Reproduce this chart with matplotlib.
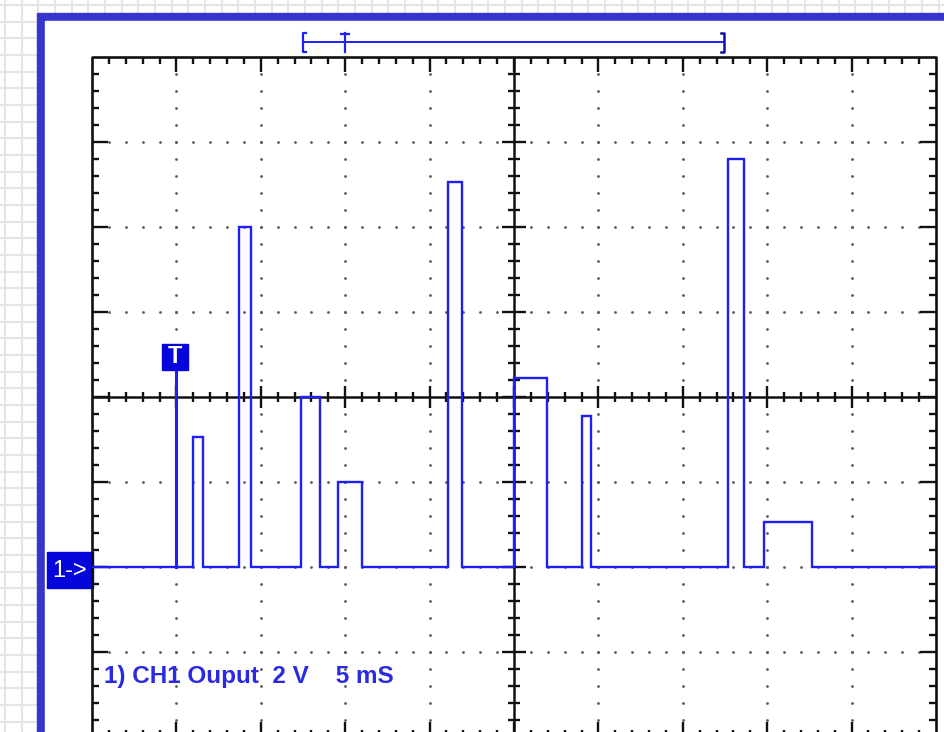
import matplotlib
matplotlib.use("Agg")
import matplotlib.pyplot as plt
import numpy as np
from matplotlib.patches import Rectangle
from matplotlib.collections import LineCollection

plt.rcParams['font.family'] = ['Liberation Sans', 'DejaVu Sans']

# ---------------- data ----------------
time_range_ms = [-25.0, 25.0]          # 10 div x 5 ms/div
volt_range_v = [-4.0, 12.0]            # 8 div x 2 V/div, ground 2 div below centre
pulse_start_ms = [-19.0, -16.3, -12.6, -10.4, -3.9, 0.0, 4.0, 12.7, 14.8]
pulse_end_ms = [-18.4, -15.6, -11.5, -9.0, -3.1, 1.95, 4.55, 13.6, 17.65]
pulse_level_v = [3.05, 8.0, 4.0, 2.0, 9.05, 4.45, 3.55, 9.6, 1.05]
trigger_ms = -20.0
label_text = "1) CH1 Ouput  2 V    5 mS"

# ---------------- colours ----------------
FRAME = '#3535cc'
SIG = '#1e1ef6'
BOX = '#0505dc'
TXT = '#2a2ae4'
GRAYGRID = '#e5e5e5'
DOT = '#5a5a5a'

W, H = 944, 732
fig = plt.figure(figsize=(W / 100, H / 100), dpi=100)

# background layer in pixel coordinates
bg = fig.add_axes([0, 0, 1, 1])
bg.set_xlim(0, W)
bg.set_ylim(H, 0)
bg.axis('off')
for x in np.arange(5, W + 1, 16.67):
    bg.plot([x, x], [0, H], color=GRAYGRID, lw=1.5, zorder=0)
for y in np.arange(5, H + 1, 16.67):
    bg.plot([0, W], [y, y], color=GRAYGRID, lw=1.5, zorder=0)
bg.add_patch(Rectangle((37, 13), 2000, 2000, color=FRAME, zorder=1))
bg.add_patch(Rectangle((45, 21), 2000, 2000, color='white', zorder=2))

# memory window indicator at top
hy = 42
bg.plot([303, 724], [hy, hy], color=SIG, lw=1.4, zorder=3)
bg.plot([306, 303, 303, 306], [33, 33, 52, 52], color=SIG, lw=1.6, zorder=3)
bg.plot([721, 724, 724, 721], [33, 33, 52, 52], color='#1010a0', lw=1.8, zorder=3)
bg.plot([345, 345], [33, 52], color=SIG, lw=1.6, zorder=3)
bg.plot([341, 349], [34, 34], color=SIG, lw=1.6, zorder=3)

# channel 1 ground marker
bg.add_patch(Rectangle((47, 552), 46, 36, color=BOX, zorder=3))
bg.text(70, 571, '1->', color='white', fontsize=17, ha='center', va='center', zorder=4)

# channel label
bg.text(104, 677, label_text, color=TXT, fontsize=17.5, fontweight='bold',
        ha='left', va='center', zorder=4)

# ---------------- scope screen ----------------
L, R, T, B = 92, 936, 57, 737
ax = fig.add_axes([L / W, 1 - B / H, (R - L) / W, (B - T) / H])
ax.set_xlim(*time_range_ms)
ax.set_ylim(*volt_range_v)
ax.axis('off')
x0, x1 = time_range_ms
y0, y1 = volt_range_v
sx = (R - L) / (x1 - x0)   # px per ms
sy = (B - T) / (y1 - y0)   # px per V
xdiv, ydiv = 5.0, 2.0
xc, yc = (x0 + x1) / 2, (y0 + y1) / 2

def dx(p):
    return p / sx

def dy(p):
    return p / sy

xs = np.arange(x0, x1 + 1e-6, xdiv / 5)
ys = np.arange(y0, y1 + 1e-6, ydiv / 5)
def is_major(v, step, base):
    r = (v - base) / step
    return abs(r - round(r)) < 1e-6

# dotted graticule
xmaj = [x for x in xs if is_major(x, xdiv, x0) and x0 < x < x1 and abs(x - xc) > 1e-6]
ymaj = [y for y in ys if is_major(y, ydiv, y0) and y0 < y < y1 and abs(y - yc) > 1e-6]
dot_x, dot_y = [], []
for x in xmaj:
    for y in ys:
        dot_x.append(x); dot_y.append(y)
for y in ymaj:
    for x in xs:
        dot_x.append(x); dot_y.append(y)
ax.plot(dot_x, dot_y, ls='none', marker='o', ms=2.0, color=DOT, mec='none', zorder=1)

# ticks
segs_edge = []
for x in xs[1:-1]:
    ln = 15 if is_major(x, xdiv, x0) else 7
    segs_edge.append([(x, y1), (x, y1 - dy(ln))])
    segs_edge.append([(x, y0), (x, y0 + dy(ln))])
for y in ys[1:-1]:
    ln = 16 if is_major(y, ydiv, y0) else 7
    segs_edge.append([(x0, y), (x0 + dx(ln), y)])
    segs_edge.append([(x1, y), (x1 - dx(ln), y)])
segs_c = []
for x in xs[1:-1]:
    ln = 11 if is_major(x, xdiv, x0) else 5
    segs_c.append([(x, yc - dy(ln)), (x, yc + dy(ln))])
for y in ys[1:-1]:
    ln = 12 if is_major(y, ydiv, y0) else 6
    segs_c.append([(xc - dx(ln), y), (xc + dx(ln), y)])
ax.add_collection(LineCollection(segs_edge, colors='#111111', linewidths=1.7, zorder=2, clip_on=False))
ax.add_collection(LineCollection(segs_c, colors='#111111', linewidths=1.7, zorder=2))

# border and centre cross
ax.plot([x0, x1, x1, x0, x0], [y0, y0, y1, y1, y0], color='#111111', lw=1.9, clip_on=False, zorder=2)
ax.plot([x0, x1], [yc, yc], color='#111111', lw=1.8, zorder=2)
ax.plot([xc, xc], [y0, y1], color='#111111', lw=1.8, zorder=2)

# waveform
t = [x0]
v = [0.0]
for s, e, lv in zip(pulse_start_ms, pulse_end_ms, pulse_level_v):
    t += [s, s, e, e]
    v += [0.0, lv, lv, 0.0]
t.append(x1)
v.append(0.0)
ax.plot(t, v, color=SIG, lw=1.7, zorder=4, solid_joinstyle='miter')

# trigger marker
box_h = dy(26)
box_w = dx(26)
box_bot = 4.64
ax.plot([trigger_ms, trigger_ms], [0, box_bot], color=SIG, lw=2.2, zorder=4)
ax.add_patch(Rectangle((trigger_ms - box_w / 2 - dx(1), box_bot), box_w, box_h, color=BOX, zorder=5))
ax.text(trigger_ms - dx(1), box_bot + box_h / 2, 'T', color='white', fontsize=17, fontweight='bold',
        ha='center', va='center', zorder=6)

fig.savefig('out.png', dpi=100)
